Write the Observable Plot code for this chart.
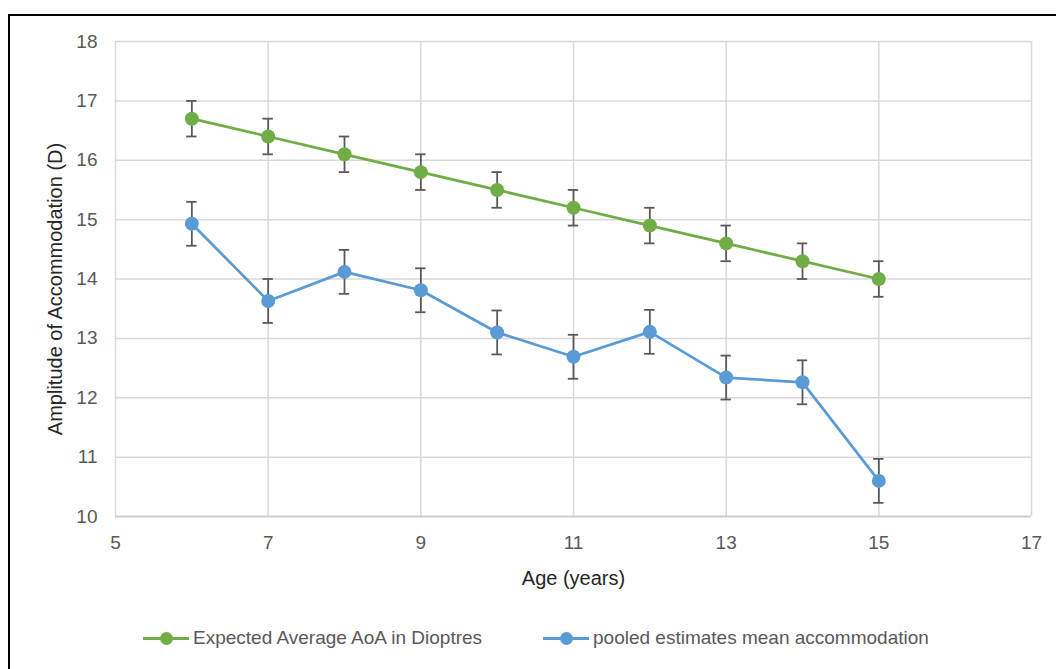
<!DOCTYPE html>
<html>
<head>
<meta charset="utf-8">
<script src="https://cdn.jsdelivr.net/npm/d3@7"></script>
<script src="https://cdn.jsdelivr.net/npm/@observablehq/plot@0.6"></script>
<style>
  html, body { margin: 0; padding: 0; background: #fff; }
  #wrap { position: relative; width: 1056px; height: 669px; overflow: hidden; font-family: "Liberation Sans", Arial, sans-serif; }
  #frame { position: absolute; left: 8px; top: 14px; width: 1100px; height: 700px; border-left: 2px solid #000; border-top: 2px solid #000; box-sizing: border-box; }
  #chart { position: absolute; left: 0; top: 0; }
  #legend { position: absolute; left: 0; top: 626px; width: 1056px; height: 24px; font-size: 19px; color: #595959; }
  .item { position: absolute; top: 0; display: flex; align-items: center; height: 24px; }
  .sw { position: relative; width: 46px; height: 24px; margin-right: 4px; }
  .sw .ln { position: absolute; left: 0; right: 0; top: 10.5px; height: 3px; }
  .sw .dt { position: absolute; left: 16.5px; top: 5.5px; width: 13px; height: 13px; border-radius: 50%; }
</style>
</head>
<body>
<div id="wrap">
  <div id="frame"></div>
  <div id="chart"></div>
  <div id="legend"></div>
</div>
<script>
const ages = [6, 7, 8, 9, 10, 11, 12, 13, 14, 15];
const expected = [16.7, 16.4, 16.1, 15.8, 15.5, 15.2, 14.9, 14.6, 14.3, 14.0];
const expectedErr = [0.3, 0.3, 0.3, 0.3, 0.3, 0.3, 0.3, 0.3, 0.3, 0.3];
const pooled = [14.93, 13.63, 14.12, 13.81, 13.1, 12.69, 13.11, 12.34, 12.26, 10.6];
const pooledErr = [0.37, 0.37, 0.37, 0.37, 0.37, 0.37, 0.37, 0.37, 0.37, 0.37];
const seriesNames = ["Expected Average AoA in Dioptres", "pooled estimates mean accommodation"];
const seriesColors = ["#70ad47", "#5b9bd5"];
const xTicks = [5, 7, 9, 11, 13, 15, 17];
const yTicks = [10, 11, 12, 13, 14, 15, 16, 17, 18];
const xTitle = "Age (years)";
const yTitle = "Amplitude of Accommodation (D)";

const rows = [];
ages.forEach((a, i) => {
  rows.push({series: seriesNames[0], x: a, y: expected[i], e: expectedErr[i]});
  rows.push({series: seriesNames[1], x: a, y: pooled[i], e: pooledErr[i]});
});
const capHalf = 0.068;
const errColor = "#595959";

const plot = Plot.plot({
  width: 1056,
  height: 600,
  marginLeft: 115,
  marginRight: 25,
  marginTop: 41,
  marginBottom: 84,
  style: {fontFamily: "'Liberation Sans', Arial, sans-serif", fontSize: "19px", background: "transparent"},
  x: {domain: [5, 17], ticks: xTicks, tickSize: 0, tickPadding: 20, label: null},
  y: {domain: [10, 18], ticks: yTicks, tickSize: 0, tickPadding: 18, label: null},
  color: {domain: seriesNames, range: seriesColors},
  marks: [
    Plot.gridX(xTicks, {stroke: "#d9d9d9", strokeOpacity: 1, strokeWidth: 1.5}),
    Plot.gridY(yTicks, {stroke: "#d9d9d9", strokeOpacity: 1, strokeWidth: 1.5}),
    Plot.ruleY([10], {stroke: "#c8c8c8", strokeWidth: 1.5}),
    Plot.axisX({ticks: xTicks, tickSize: 0, tickPadding: 19, fill: "#595959", fontSize: 19, label: null}),
    Plot.axisY({ticks: yTicks, tickSize: 0, tickPadding: 18, fill: "#595959", fontSize: 19, label: null}),
    Plot.line(rows, {x: "x", y: "y", z: "series", stroke: "series", strokeWidth: 2.75}),
    Plot.ruleX(rows, {x: "x", y1: d => d.y - d.e, y2: d => d.y + d.e, stroke: errColor, strokeWidth: 1.8}),
    Plot.ruleY(rows, {y: d => d.y + d.e, x1: d => d.x - capHalf, x2: d => d.x + capHalf, stroke: errColor, strokeWidth: 1.8}),
    Plot.ruleY(rows, {y: d => d.y - d.e, x1: d => d.x - capHalf, x2: d => d.x + capHalf, stroke: errColor, strokeWidth: 1.8}),
    Plot.dot(rows, {x: "x", y: "y", fill: "series", r: 7}),
    Plot.text([xTitle], {frameAnchor: "bottom", dy: 62, text: d => d, fill: "#262626", fontSize: 20, lineAnchor: "middle", textAnchor: "middle"}),
    Plot.text([yTitle], {frameAnchor: "left", dx: -60, dy: 10, rotate: -90, text: d => d, fill: "#262626", fontSize: 20, lineAnchor: "middle", textAnchor: "middle"})
  ]
});
document.getElementById("chart").appendChild(plot);

const legend = document.getElementById("legend");
const legendLeft = [143, 543];
seriesNames.forEach((name, i) => {
  const item = document.createElement("div");
  item.className = "item";
  item.style.left = legendLeft[i] + "px";
  item.innerHTML = `<div class="sw"><div class="ln" style="background:${seriesColors[i]}"></div><div class="dt" style="background:${seriesColors[i]}"></div></div><span>${name}</span>`;
  legend.appendChild(item);
});
</script>
</body>
</html>
